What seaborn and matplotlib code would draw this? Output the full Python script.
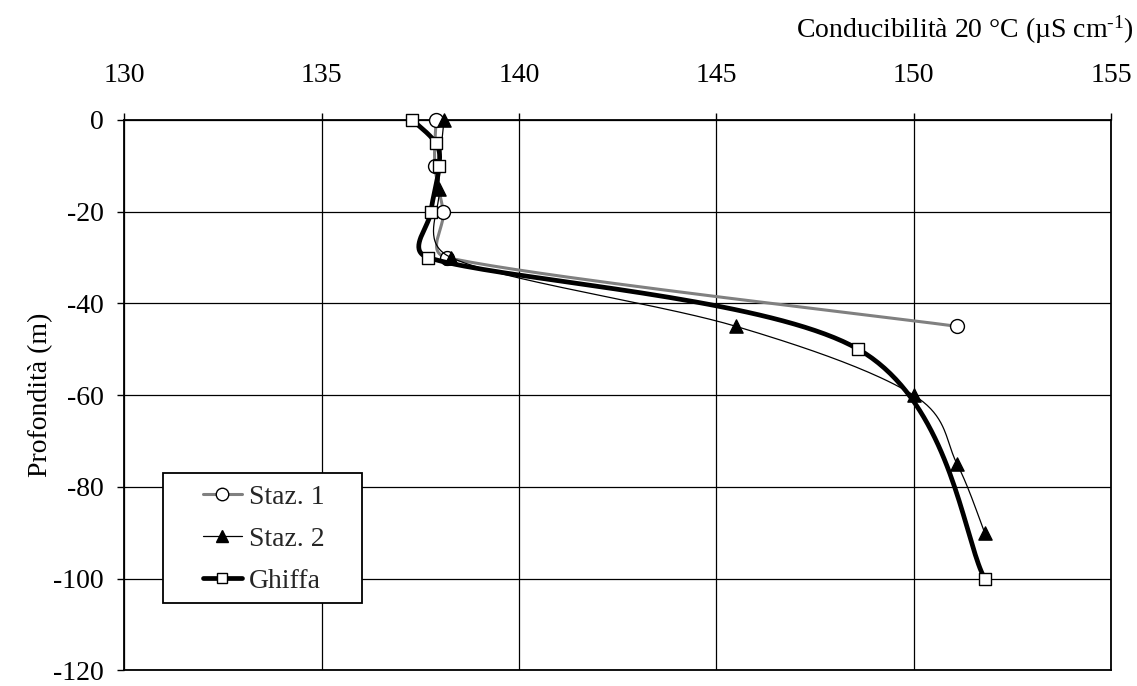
import numpy as np
import pandas as pd
import matplotlib
matplotlib.use("Agg")
import matplotlib.pyplot as plt
from matplotlib.lines import Line2D
from matplotlib.patches import Rectangle
import seaborn as sns

# Conductivity profiles (µS/cm at 20 °C) against depth (m)
staz1_depth = [0, -10, -20, -30, -45]
staz1_cond = [137.9, 137.87, 138.08, 138.18, 151.1]

staz2_depth = [0, -15, -30, -45, -60, -75, -90]
staz2_cond = [138.1, 137.98, 138.28, 145.5, 150.0, 151.1, 151.8]

ghiffa_depth = [0, -5, -10, -20, -30, -50, -100]
ghiffa_cond = [137.3, 137.89, 137.98, 137.77, 137.7, 148.6, 151.8]

series_names = ["Staz. 1", "Staz. 2", "Ghiffa"]
x_ticks = [130, 135, 140, 145, 150, 155]
y_ticks = [0, -20, -40, -60, -80, -100, -120]

sns.set_theme(style="white")
plt.rcParams["font.family"] = ["Liberation Serif", "DejaVu Serif"]
plt.rcParams["mathtext.fontset"] = "custom"
plt.rcParams["mathtext.rm"] = "Liberation Serif"
plt.rcParams["mathtext.it"] = "Liberation Serif:italic"
plt.rcParams["axes.unicode_minus"] = False

FS = 20

fig = plt.figure(figsize=(11.37, 6.86), dpi=100)
ax = fig.add_axes([0.1093, 0.0229, 0.8678, 0.8022])
ax.set_xlim(130, 155)
ax.set_ylim(-120, 0)


def smooth_curve(xs, ys, n=40):
    """Cubic Bezier smoothing through the points, built in display space."""
    P = ax.transData.transform(np.column_stack([xs, ys]))
    pts = [P[0]]
    t = np.linspace(0, 1, n)[1:, None]
    for i in range(len(P) - 1):
        p0 = P[i - 1] if i > 0 else P[i]
        p1, p2 = P[i], P[i + 1]
        p3 = P[i + 2] if i + 2 < len(P) else P[i + 1]
        d12 = np.linalg.norm(p2 - p1)
        v1 = (p2 - p0) / 6.0
        v2 = (p3 - p1) / 6.0
        for v in (v1, v2):
            nv = np.linalg.norm(v)
            if nv > d12 / 2 and nv > 0:
                v *= (d12 / 2) / nv
        c1, c2 = p1 + v1, p2 - v2
        seg = ((1 - t) ** 3) * p1 + 3 * ((1 - t) ** 2) * t * c1 \
            + 3 * (1 - t) * t ** 2 * c2 + t ** 3 * p2
        pts.extend(seg)
    D = ax.transData.inverted().transform(np.array(pts))
    return pd.DataFrame({"cond": D[:, 0], "depth": D[:, 1]})


styles = [
    dict(color="#808080", lw=2.2, marker="o", ms=10, mfc="white"),
    dict(color="black", lw=0.9, marker="^", ms=9.5, mfc="black"),
    dict(color="black", lw=3.4, marker="s", ms=8.6, mfc="white"),
]
data = [
    (staz1_cond, staz1_depth),
    (staz2_cond, staz2_depth),
    (ghiffa_cond, ghiffa_depth),
]

handles = []
for k, ((xs, ys), st, name) in enumerate(zip(data, styles, series_names)):
    curve = smooth_curve(xs, ys)
    sns.lineplot(data=curve, x="cond", y="depth", sort=False, estimator=None,
                 color=st["color"], linewidth=st["lw"], ax=ax,
                 zorder=3 + 2 * k, clip_on=False)
    pts = pd.DataFrame({"cond": xs, "depth": ys})
    sns.scatterplot(data=pts, x="cond", y="depth", marker=st["marker"],
                    s=st["ms"] ** 2, color=st["mfc"], edgecolor="black",
                    linewidth=1.0, ax=ax, zorder=4 + 2 * k, clip_on=False)
    handles.append(Line2D([], [], color=st["color"], lw=st["lw"],
                          marker=st["marker"], markersize=st["ms"] * 0.9,
                          markerfacecolor=st["mfc"], markeredgecolor="black",
                          markeredgewidth=1.0))

# Axes, grid and ticks
ax.xaxis.tick_top()
ax.set_xticks(x_ticks)
ax.set_yticks(y_ticks)
ax.grid(True, color="black", linewidth=0.9)
ax.set_axisbelow(True)
for sp in ax.spines.values():
    sp.set_visible(True)
    sp.set_color("black")
    sp.set_linewidth(1.3)
ax.tick_params(axis="x", which="both", top=True, bottom=False, direction="out",
               length=5, width=1, colors="black", labelsize=FS, pad=18)
ax.tick_params(axis="y", which="both", left=True, right=False, direction="out",
               length=5, width=1, colors="black", labelsize=FS, pad=10)

ax.set_xlabel("Conducibilità 20 °C (µS cm$^{\\text{-1}}$)", fontsize=FS,
              color="black")
ax.xaxis.set_label_position("top")
ax.xaxis.set_label_coords(1.0233, 1.1495)
ax.xaxis.label.set_ha("right")
ax.xaxis.label.set_va("baseline")

ax.set_ylabel("Profondità (m)", fontsize=FS, color="black")
ax.yaxis.set_label_coords(-0.0845, 0.5)
ax.yaxis.label.set_va("center")

# Legend box and entries
ax.add_patch(Rectangle((0.0392, 0.122), 0.2017, 0.2363, transform=ax.transAxes,
                       facecolor="white", edgecolor="black", linewidth=1.3,
                       zorder=20))
leg = ax.legend(handles, series_names, loc="center left",
                bbox_to_anchor=(0.0660, 0.238), frameon=False, fontsize=FS,
                borderpad=0, handlelength=1.38, handletextpad=0.25,
                labelspacing=0.6)
leg.set_zorder(21)

fig.savefig("out.png", dpi=100, facecolor="white")
